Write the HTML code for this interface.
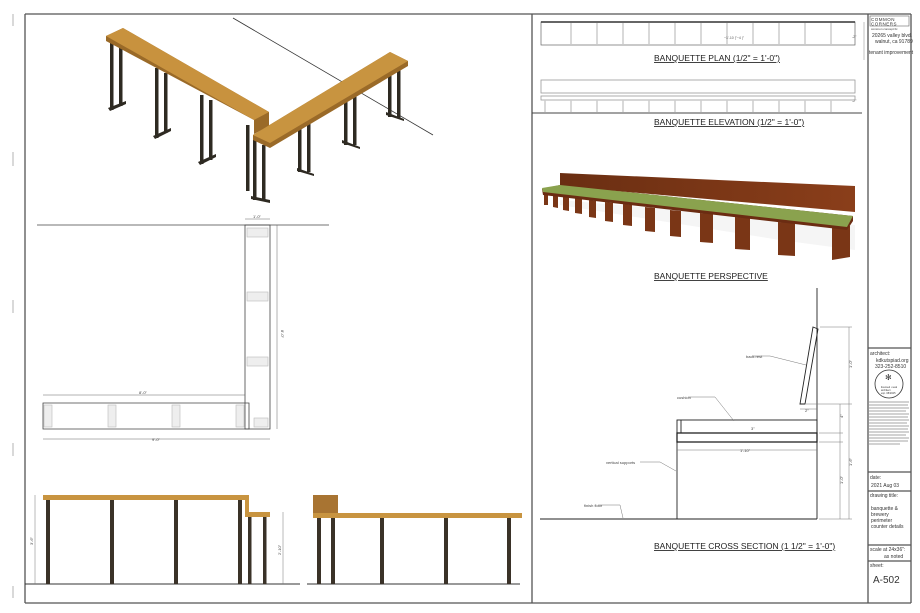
<!DOCTYPE html>
<html><head><meta charset="utf-8"><style>
html,body{margin:0;padding:0;background:#fff}
svg{display:block}
text{font-family:"Liberation Sans",sans-serif}
</style></head><body>
<svg width="920" height="613" viewBox="0 0 920 613" xmlns="http://www.w3.org/2000/svg">
<defs>
<linearGradient id="bw" x1="0" y1="0" x2="1" y2="0"><stop offset="0" stop-color="#6a2e12"/><stop offset="1" stop-color="#8a3e1a"/></linearGradient>
</defs>
<rect width="920" height="613" fill="#fff"/>
<g stroke="#ccc" stroke-width="1.5">
<line x1="13" y1="14" x2="13" y2="26"/><line x1="13" y1="152" x2="13" y2="166"/><line x1="13" y1="300" x2="13" y2="313"/><line x1="13" y1="443" x2="13" y2="456"/><line x1="13" y1="586" x2="13" y2="598"/>
</g>
<g stroke="#555" fill="none" stroke-width="1.3">
<line x1="25" y1="14" x2="911" y2="14"/>
<line x1="25" y1="14" x2="25" y2="603"/>
<line x1="25" y1="603" x2="911" y2="603"/>
<line x1="532" y1="14" x2="532" y2="603"/>
<line x1="868" y1="14" x2="868" y2="603"/>
<line x1="911" y1="14" x2="911" y2="603"/>
<line x1="868" y1="348" x2="911" y2="348"/>
<line x1="868" y1="472" x2="911" y2="472"/>
<line x1="868" y1="491" x2="911" y2="491"/>
<line x1="868" y1="545" x2="911" y2="545"/>
<line x1="868" y1="561" x2="911" y2="561"/>
</g>
<g font-size="5" fill="#333">
<rect x="870" y="16" width="39" height="10" fill="none" stroke="#666" stroke-width="0.6"/>
<text x="871" y="21" font-size="4.5" letter-spacing="0.5">COMMON</text>
<text x="871" y="25.5" font-size="4.5" letter-spacing="0.5">CORNERS</text>
<text x="871" y="30" font-size="3">common concept llc</text>
<text x="872" y="37">20265 valley blvd.</text>
<text x="875" y="43">walnut, ca 91789</text>
<text x="869" y="54">tenant improvement</text>
<text x="870" y="355">architect:</text>
<text x="876" y="362">kdkutspiad.org</text>
<text x="875" y="368">323-252-8510</text>
<circle cx="889" cy="384" r="14" fill="none" stroke="#333" stroke-width="0.8"/>
<text x="885" y="380" font-size="8">✻</text>
<text x="881" y="388" font-size="2.5">licensed • seal</text>
<text x="881" y="391" font-size="2.5">architect</text>
<text x="881" y="394" font-size="2.5">exp. 08/2025</text>
</g>
<g stroke="#888" stroke-width="0.8">
<line x1="869" y1="402" x2="909" y2="402"/><line x1="869" y1="405" x2="908" y2="405"/><line x1="869" y1="408" x2="909" y2="408"/><line x1="869" y1="411" x2="906" y2="411"/><line x1="869" y1="414" x2="909" y2="414"/><line x1="869" y1="417" x2="908" y2="417"/><line x1="869" y1="420" x2="909" y2="420"/><line x1="869" y1="423" x2="907" y2="423"/><line x1="869" y1="426" x2="909" y2="426"/><line x1="869" y1="429" x2="908" y2="429"/><line x1="869" y1="432" x2="909" y2="432"/><line x1="869" y1="435" x2="906" y2="435"/><line x1="869" y1="438" x2="909" y2="438"/><line x1="869" y1="441" x2="908" y2="441"/><line x1="869" y1="444" x2="900" y2="444"/>
</g>
<g font-size="5" fill="#333">
<text x="870" y="479">date:</text>
<text x="871" y="487">2021 Aug 03</text>
<text x="870" y="497">drawing title:</text>
<text x="871" y="510">banquette &amp;</text>
<text x="871" y="516">brewery</text>
<text x="871" y="522">perimeter</text>
<text x="871" y="528">counter details</text>
<text x="870" y="551">scale at 24x36":</text>
<text x="884" y="558">as noted</text>
<text x="870" y="567">sheet:</text>
<text x="873" y="583" font-size="10">A-502</text>
</g>

<line x1="233" y1="18" x2="433" y2="135" stroke="#333" stroke-width="0.8"/>
<g fill="#2e2a22">
<rect x="110" y="42" width="3.5" height="68"/><rect x="119" y="46" width="3.5" height="60"/><polygon points="108,108 126,101 126,104 110,111"/>
<rect x="155" y="68" width="3.5" height="70"/><rect x="164" y="73" width="3.5" height="60"/><polygon points="153,136 171,128 171,131 155,139"/>
<rect x="200" y="95" width="3.5" height="69"/><rect x="209" y="100" width="3.5" height="60"/><polygon points="198,162 216,154 216,157 200,165"/>
<rect x="246" y="125" width="3.5" height="66"/><rect x="253" y="140" width="3.5" height="60"/><rect x="262" y="145" width="3.5" height="56"/><polygon points="251,196 270,200 270,203 251,199"/>
<rect x="298" y="125" width="3.5" height="47"/><rect x="307" y="122" width="3.5" height="50"/><polygon points="297,168 314,174 314,176 297,171"/>
<rect x="344" y="98" width="3.5" height="47"/><rect x="353" y="95" width="3.5" height="50"/><polygon points="342,140 360,147 360,149 342,143"/>
<rect x="388" y="72" width="3.5" height="45"/><rect x="397" y="70" width="3.5" height="48"/><polygon points="386,112 404,119 404,121 386,115"/>
</g>
<polygon points="106,36 123,28 269,112 269,126 254,134 254,120 106,41" fill="#9a6a28"/>
<polygon points="106,36 123,28 269,112 254,120" fill="#c8923e"/>
<polygon points="253,135 390,52 408,61 408,66 270,148 253,140" fill="#9a6a28"/>
<polygon points="253,135 390,52 408,61 270,143" fill="#c89440"/>

<g stroke="#444" fill="none" stroke-width="0.8">
<line x1="37" y1="225" x2="329" y2="225"/>
<rect x="245" y="225" width="25" height="204"/>
<polyline points="245,403 249,403 249,429 43,429 43,403 245,403"/>
</g>
<g fill="#eee" stroke="#bbb" stroke-width="0.6">
<rect x="247" y="228" width="21" height="9"/><rect x="247" y="292" width="21" height="9"/><rect x="247" y="357" width="21" height="9"/><rect x="254" y="418" width="14" height="9"/>
<rect x="44" y="405" width="8" height="22"/><rect x="108" y="405" width="8" height="22"/><rect x="172" y="405" width="8" height="22"/><rect x="236" y="405" width="8" height="22"/>
</g>
<g stroke="#666" stroke-width="0.5">
<line x1="245" y1="219" x2="270" y2="219"/><line x1="277" y1="225" x2="277" y2="429"/>
<line x1="43" y1="395" x2="245" y2="395"/><line x1="43" y1="439" x2="270" y2="439"/>
</g>
<g font-size="4" fill="#444">
<text x="253" y="218">1'-0"</text><text x="139" y="394">8'-0"</text><text x="152" y="441">9'-0"</text>
<text x="281" y="330" transform="rotate(90 281 330)">8'-0"</text>
</g>

<g stroke="#333" stroke-width="1"><line x1="25" y1="584" x2="300" y2="584"/><line x1="307" y1="584" x2="520" y2="584"/></g>
<polygon points="43,495 249,495 249,512 270,512 270,517 245,517 245,500 43,500" fill="#c89440"/>
<g fill="#3a3228">
<rect x="46" y="500" width="4" height="84"/><rect x="110" y="500" width="4" height="84"/><rect x="174" y="500" width="4" height="84"/><rect x="238" y="500" width="4" height="84"/>
<rect x="248" y="517" width="3.5" height="67"/><rect x="263" y="517" width="3.5" height="67"/>
</g>
<rect x="313" y="495" width="25" height="19" fill="#a87432"/>
<rect x="313" y="513" width="209" height="5" fill="#c89440"/>
<g fill="#3a3228">
<rect x="317" y="518" width="4" height="66"/><rect x="331" y="518" width="4" height="66"/><rect x="380" y="518" width="4" height="66"/><rect x="444" y="518" width="4" height="66"/><rect x="507" y="518" width="4" height="66"/>
</g>
<g stroke="#777" stroke-width="0.5"><line x1="35" y1="495" x2="35" y2="584"/><line x1="283" y1="512" x2="283" y2="584"/></g>
<g font-size="4" fill="#444"><text x="33" y="545" transform="rotate(-90 33 545)">3'-6"</text><text x="281" y="555" transform="rotate(-90 281 555)">2'-10"</text></g>

<g stroke="#666" fill="none" stroke-width="0.7">
<rect x="541" y="22" width="314" height="23"/>
<line x1="864" y1="22" x2="864" y2="60" stroke="#aaa"/>
</g>
<line x1="541" y1="22" x2="855" y2="22" stroke="#333" stroke-width="1.5"/>
<g stroke="#ccc" stroke-width="1.5">
<line x1="571" y1="23" x2="571" y2="44"/><line x1="597" y1="23" x2="597" y2="44"/><line x1="623" y1="23" x2="623" y2="44"/><line x1="649" y1="23" x2="649" y2="44"/><line x1="675" y1="23" x2="675" y2="44"/><line x1="701" y1="23" x2="701" y2="44"/><line x1="727" y1="23" x2="727" y2="44"/><line x1="753" y1="23" x2="753" y2="44"/><line x1="779" y1="23" x2="779" y2="44"/><line x1="805" y1="23" x2="805" y2="44"/><line x1="831" y1="23" x2="831" y2="44"/>
</g>
<g font-size="3.5" fill="#555"><text x="724" y="39">~1'-10 |"~4 |"</text><text x="852" y="38">-2"</text><text x="852" y="102">-2"</text></g>
<g font-size="8.5" fill="#222" text-decoration="underline">
<text x="654" y="61">BANQUETTE PLAN  (1/2" = 1'-0")</text>
<text x="654" y="125">BANQUETTE ELEVATION (1/2" = 1'-0")</text>
<text x="654" y="279">BANQUETTE PERSPECTIVE</text>
<text x="654" y="549">BANQUETTE CROSS SECTION (1 1/2" = 1'-0")</text>
</g>
<g stroke="#999" fill="none" stroke-width="0.8">
<rect x="541" y="80" width="314" height="13"/>
<rect x="541" y="96" width="314" height="4"/>
</g>
<g stroke="#ccc" stroke-width="1.5">
<line x1="545" y1="100" x2="545" y2="112"/><line x1="571" y1="100" x2="571" y2="112"/><line x1="597" y1="100" x2="597" y2="112"/><line x1="623" y1="100" x2="623" y2="112"/><line x1="649" y1="100" x2="649" y2="112"/><line x1="675" y1="100" x2="675" y2="112"/><line x1="701" y1="100" x2="701" y2="112"/><line x1="727" y1="100" x2="727" y2="112"/><line x1="753" y1="100" x2="753" y2="112"/><line x1="779" y1="100" x2="779" y2="112"/><line x1="805" y1="100" x2="805" y2="112"/><line x1="831" y1="100" x2="831" y2="112"/>
</g>
<line x1="532" y1="113" x2="862" y2="113" stroke="#444" stroke-width="1"/>

<polygon points="560,173 855,186 855,212 560,186" fill="url(#bw)"/>
<polygon points="560,200 855,225 855,250 780,240 560,205" fill="#eee" opacity="0.6"/>
<g fill="#7a3616">
<polygon points="544,194 548,194 548,205 544,205"/>
<polygon points="553,195 558,196 558,208 553,207"/>
<polygon points="563,197 569,197 569,211 563,210"/>
<polygon points="575,198 582,199 582,214 575,213"/>
<polygon points="589,200 596,201 596,218 589,217"/>
<polygon points="605,202 613,203 613,222 605,221"/>
<polygon points="623,204 632,205 632,226 623,225"/>
<polygon points="645,207 655,208 655,232 645,231"/>
<polygon points="670,210 681,211 681,237 670,236"/>
<polygon points="700,213 713,214 713,243 700,242"/>
<polygon points="735,217 750,218 750,250 735,249"/>
<polygon points="778,222 795,223 795,256 778,255"/>
<polygon points="832,227 850,226 850,257 832,260"/>
</g>
<polygon points="542,189 560,185 853,216 853,221 847,230 543,195" fill="#6b2c12"/>
<polygon points="542,188 560,185 853,216 847,227 543,192" fill="#8aa24e"/>

<g stroke="#222" fill="none" stroke-width="0.9">
<line x1="817" y1="288" x2="817" y2="519"/>
<line x1="540" y1="519" x2="817" y2="519"/>
<rect x="677" y="420" width="140" height="13"/>
<rect x="677" y="433" width="140" height="9" stroke-width="1.3"/>
<line x1="681" y1="420" x2="681" y2="433"/>
<line x1="677" y1="442" x2="677" y2="519"/>
<polygon points="813,327 818,329 805,404 800,404"/>
</g>
<g stroke="#777" fill="none" stroke-width="0.5">
<line x1="820" y1="327" x2="852" y2="327"/><line x1="849" y1="327" x2="849" y2="519"/>
<line x1="806" y1="404" x2="852" y2="404"/><line x1="840" y1="404" x2="840" y2="519"/>
<line x1="819" y1="433" x2="843" y2="433"/><line x1="819" y1="442" x2="843" y2="442"/><line x1="819" y1="519" x2="852" y2="519"/>
<line x1="677" y1="450" x2="817" y2="450"/>
<line x1="800" y1="409" x2="817" y2="409"/>
<line x1="752" y1="356" x2="770" y2="356"/><line x1="770" y1="356" x2="806" y2="365"/>
<line x1="688" y1="397" x2="715" y2="397"/><line x1="715" y1="397" x2="734" y2="421"/>
<line x1="640" y1="462" x2="660" y2="462"/><line x1="660" y1="462" x2="676" y2="471"/>
<line x1="598" y1="505" x2="620" y2="505"/><line x1="620" y1="505" x2="623" y2="518"/>
</g>
<g font-size="4" fill="#444">
<text x="746" y="358">back rest</text>
<text x="677" y="399">cushion</text>
<text x="606" y="464">vertical supports</text>
<text x="584" y="507">finish floor</text>
<text x="740" y="452">1'-10"</text>
<text x="805" y="412">2"</text>
<text x="751" y="430">3"</text>
<text x="852" y="368" transform="rotate(-90 852 368)">1'-0"</text>
<text x="852" y="466" transform="rotate(-90 852 466)">1'-6"</text>
<text x="843" y="418" transform="rotate(-90 843 418)">4"</text>
<text x="843" y="484" transform="rotate(-90 843 484)">1'-0"</text>
</g>
</svg>
</body></html>
